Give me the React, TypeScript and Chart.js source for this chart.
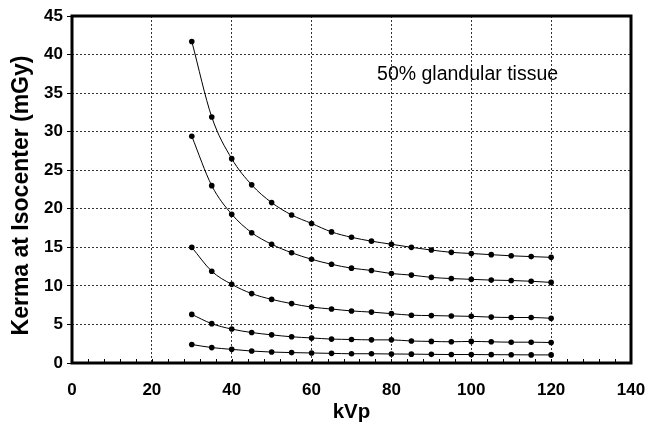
import React, { useEffect, useRef } from "react";
import { Chart, registerables } from "chart.js";

Chart.register(...registerables);

const kvp = [30, 35, 40, 45, 50, 55, 60, 65, 70, 75, 80, 85, 90, 95, 100, 105, 110, 115, 120];
const seriesA = [41.7, 31.9, 26.5, 23.1, 20.8, 19.2, 18.1, 17.0, 16.3, 15.8, 15.4, 15.0, 14.65, 14.35, 14.2, 14.05, 13.9, 13.8, 13.7];
const seriesB = [29.4, 23.0, 19.3, 16.9, 15.4, 14.3, 13.45, 12.8, 12.3, 12.0, 11.6, 11.4, 11.1, 10.95, 10.85, 10.75, 10.7, 10.6, 10.45];
const seriesC = [15.0, 11.9, 10.2, 9.0, 8.25, 7.7, 7.25, 7.0, 6.75, 6.6, 6.4, 6.2, 6.15, 6.1, 6.05, 5.95, 5.9, 5.9, 5.8];
const seriesD = [6.3, 5.1, 4.4, 3.95, 3.65, 3.4, 3.25, 3.1, 3.05, 3.0, 3.0, 2.85, 2.8, 2.75, 2.8, 2.75, 2.7, 2.7, 2.65];
const seriesE = [2.4, 2.0, 1.77, 1.55, 1.42, 1.35, 1.3, 1.25, 1.2, 1.2, 1.17, 1.15, 1.12, 1.1, 1.1, 1.08, 1.07, 1.05, 1.05];
const allSeries = [seriesA, seriesB, seriesC, seriesD, seriesE];

const xTitle = "kVp";
const yTitle = "Kerma at Isocenter (mGy)";
const noteText = "50% glandular tissue";
const notePos = { x: 76.4, y: 36.7 };

const FONT = "'Liberation Sans', Arial, sans-serif";

const framePlugin = {
  id: "frame",
  afterDraw(chart: any) {
    const { ctx, chartArea: a, scales } = chart;
    ctx.save();
    ctx.strokeStyle = "#000";
    ctx.lineWidth = 1;
    ctx.beginPath();
    for (let v = 4; v < 140; v += 4) {
      const px = Math.round(scales.x.getPixelForValue(v)) + 0.5;
      ctx.moveTo(px, a.bottom);
      ctx.lineTo(px, a.bottom - 4);
    }
    ctx.stroke();
    ctx.lineWidth = 3;
    ctx.strokeRect(a.left, a.top, a.right - a.left, a.bottom - a.top);
    ctx.fillStyle = "#000";
    ctx.font = `19.5px ${FONT}`;
    ctx.textAlign = "left";
    ctx.textBaseline = "alphabetic";
    ctx.fillText(noteText, scales.x.getPixelForValue(notePos.x), scales.y.getPixelForValue(notePos.y));
    // y axis title
    ctx.translate(22, (a.top + a.bottom) / 2 + 6);
    ctx.rotate(-Math.PI / 2);
    ctx.font = `bold 23px ${FONT}`;
    ctx.textAlign = "center";
    ctx.textBaseline = "middle";
    ctx.fillText(yTitle, 0, 0);
    ctx.restore();
  },
};

export default function App() {
  const ref = useRef<HTMLCanvasElement | null>(null);
  useEffect(() => {
    document.body.style.margin = "0";
    const canvas = ref.current!;
    const chart = new Chart(canvas, {
      type: "line",
      data: {
        datasets: allSeries.map((s) => ({
          data: kvp.map((x, i) => ({ x, y: s[i] })),
          borderColor: "#000",
          borderWidth: 1,
          backgroundColor: "#000",
          pointRadius: 2.8,
          pointBorderWidth: 0,
          pointBackgroundColor: "#000",
          tension: 0.4,
          cubicInterpolationMode: "monotone" as const,
          fill: false,
        })),
      },
      options: {
        animation: false,
        responsive: false,
        maintainAspectRatio: false,
        layout: { padding: { left: 0, top: 16, right: 17, bottom: 0 } },
        plugins: { legend: { display: false }, tooltip: { enabled: false } },
        scales: {
          x: {
            type: "linear",
            min: 0,
            max: 140,
            afterFit: (s: any) => { s.height = 72; s.paddingLeft = 0; s.paddingRight = 0; },
            ticks: { stepSize: 20, color: "#000", font: { family: FONT, size: 17, weight: "bold" }, padding: 17 },
            grid: {
              color: (c: any) => (c.tick && (c.tick.value === 0 || c.tick.value === 140) ? "rgba(0,0,0,0)" : "#333"),
              lineWidth: 1,
              drawTicks: false,
            },
            border: { display: false, dash: [2, 2] },
            title: { display: true, text: xTitle, color: "#000", font: { family: FONT, size: 20.5, weight: "bold" }, padding: { top: 0, bottom: 10 } },
          },
          y: {
            type: "linear",
            min: 0,
            max: 45,
            afterFit: (s: any) => { s.width = 72; s.paddingTop = 0; s.paddingBottom = 0; },
            ticks: { stepSize: 5, color: "#000", font: { family: FONT, size: 17, weight: "bold" }, padding: 4 },
            grid: {
              color: (c: any) => (c.tick && (c.tick.value === 0 || c.tick.value === 45) ? "rgba(0,0,0,0)" : "#333"),
              tickColor: "#000",
              tickLength: 5,
              tickBorderDash: [],
              lineWidth: 1,
            },
            border: { display: false, dash: [2, 2] },
            title: { display: false, text: yTitle },
          },
        },
      },
      plugins: [framePlugin],
    } as any);
    return () => chart.destroy();
  }, []);
  return (
    <div style={{ position: "relative", width: 648, height: 435 }}>
      <canvas ref={ref} width={648} height={435} style={{ width: 648, height: 435, display: "block" }} />
    </div>
  );
}
